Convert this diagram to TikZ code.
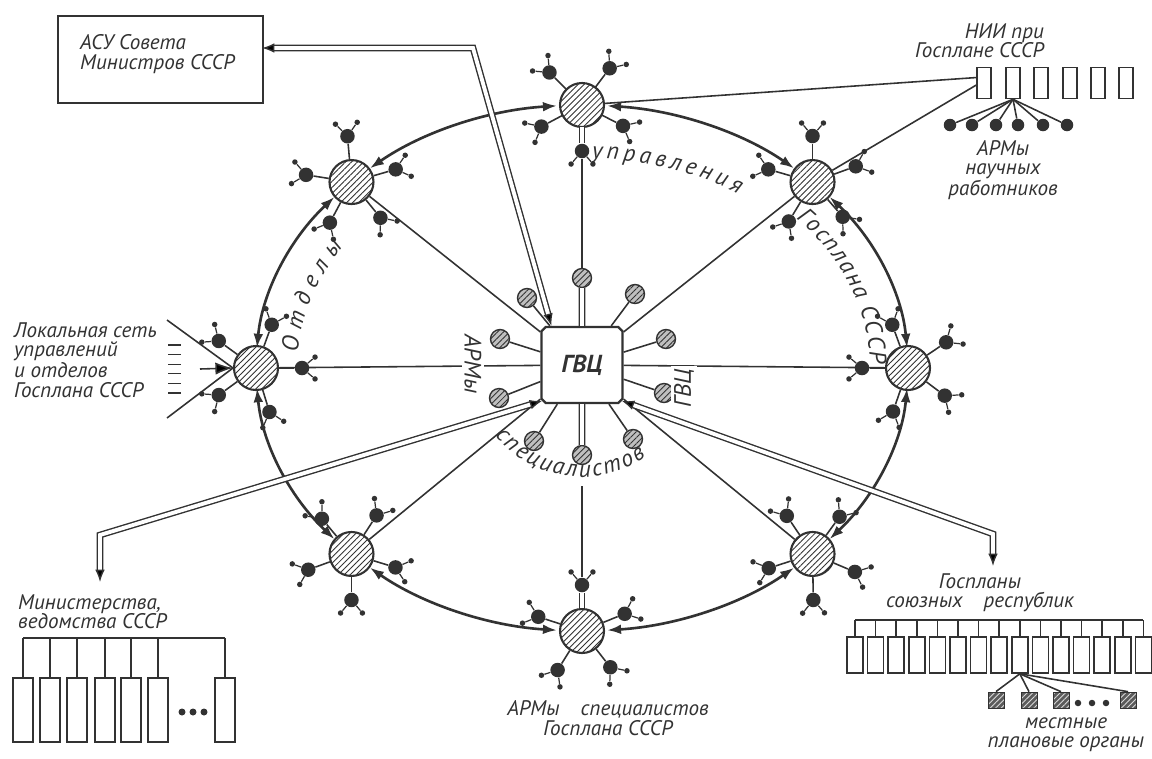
\documentclass[tikz,border=0pt]{standalone}
\usepackage{fontspec}
\setmainfont{PT Sans}
\usepackage{tikz}
\usetikzlibrary{arrows.meta, positioning, shapes.misc, patterns.meta, decorations.text, calc}
\definecolor{ink}{RGB}{50,50,50}
\newcommand\ringfont{\fontsize{13.5}{13.5}\selectfont\itshape}

\begin{document}
\begin{tikzpicture}[x=0.02cm, y=0.02cm,
  every node/.style={font=\fontsize{12}{11}\selectfont\itshape, text=ink},
  hatch/.style={pattern={Lines[angle=45, distance=2.4pt, line width=0.5pt]}, pattern color=ink},
  hub/.style={circle, draw=ink, line width=1.2pt, minimum size=0.88cm, inner sep=0, preaction={fill=white}, hatch},
  arm/.style={circle, fill=ink, minimum size=0.29cm, inner sep=0},
  tipdot/.style={circle, fill=ink, minimum size=0.11cm, inner sep=0},
  gsat/.style={circle, draw=ink, line width=0.8pt, minimum size=0.38cm, inner sep=0, preaction={fill=black!25}, hatch},
  gvcbox/.style={chamfered rectangle, chamfered rectangle xsep=1.2pt, chamfered rectangle ysep=1.2pt, draw=ink, line width=1.3pt, minimum width=1.62cm, minimum height=1.52cm, fill=white, font=\fontsize{14}{14}\selectfont\bfseries\itshape},
  locsq/.style={rectangle, draw=ink, minimum size=0.32cm, inner sep=0, preaction={fill=ink!80}, pattern={Lines[angle=45, distance=2.2pt, line width=0.5pt]}, pattern color=black!15},
  ring/.style={draw=ink, line width=1.5pt, {Latex[length=8pt,width=5.5pt]}-{Latex[length=8pt,width=5.5pt]}},
  spoke/.style={draw=ink, line width=0.9pt},
  whisk/.style={draw=ink, line width=0.7pt},
  dbl/.style={draw=ink, line width=0.8pt, double=white, double distance=2.2pt},
  dtips/.style={{Latex[length=7pt,width=5.5pt]}-{Latex[length=7pt,width=5.5pt]}},
  box/.style={rectangle, draw=ink, line width=0.9pt, inner sep=0},
]
  \useasboundingbox (0,0) rectangle (1152,-758);
  \coordinate (c0) at (582,-368);

  \foreach \h/\a in {hn/90, hne/45, he/0, hse/-45, hs/-90, hsw/-135, hw/180, hnw/135}
    \node[hub] (\h) at ($(c0)+(\a:326 and 263)$) {};

  \node[gvcbox] (gvc) at (582,-365) {ГВЦ};
  \foreach \n/\x/\y in {gn/582/278, gnw/527/298, gne/635/294, gwu/500/339, geu/666/339, gwl/499/398, gel/664/393, gsw/534/441, gs/582/455, gse/633/439}
    \node[gsat] (\n) at (\x,-\y) {};
  \foreach \n in {gnw, gne, gwu, geu, gwl, gel, gsw, gse}
    \draw[spoke] (\n) -- (gvc);
  \draw[dbl] (gn) -- (gvc);
  \draw[dbl] (gs) -- (gvc);

  \foreach \a in {0,45,...,315}
    \draw[ring] ($(c0)+({\a+4.4}:326 and 263)$) arc[start angle={\a+4.4}, end angle={\a+40.6}, x radius=326, y radius=263];

  \foreach \h in {hnw, hne, he, hse, hsw, hw}
    \draw[spoke] (gvc) -- (\h);

  \foreach \h/\list in {
    hn/{-90/dbl,135/spoke,53/spoke,208/spoke,-27/spoke},
    hne/{164/spoke,90/spoke,20/spoke,239/spoke,311/spoke},
    he/{110/spoke,34/spoke,180/spoke,-37/spoke,251/spoke},
    hse/{124/spoke,54/spoke,-23/spoke,-89/spoke,198/spoke},
    hs/{90/dbl,162/spoke,22/spoke,238/spoke,308/spoke},
    hsw/{130/spoke,57/spoke,-17/spoke,-90/spoke,200/spoke},
    hw/{70/spoke,144/spoke,0/spoke,216/spoke,287/spoke},
    hnw/{95/spoke,171/spoke,16/spoke,242/spoke,309/spoke}}
    \foreach \s/\lk [count=\i] in \list {
      \pgfmathsetmacro\sa{\s+40}
      \pgfmathsetmacro\sb{\s-40}
      \node[arm] (\h\i) at ($(\h)+(\s:46)$) {};
      \draw[\lk] (\h) -- (\h\i);
      \node[tipdot] (\h\i a) at ($(\h\i)+(\sa:17)$) {};
      \node[tipdot] (\h\i b) at ($(\h\i)+(\sb:17)$) {};
      \draw[whisk] (\h\i a) -- (\h\i) -- (\h\i b);
    }

  \draw[spoke] (gn) -- (hn1);
  \coordinate (gsb) at (582,-486);
  \draw[spoke] (gsb) -- (hs1);

  \path[decorate, decoration={text along path, text={|\ringfont|управления}, text color=ink, text align=fit to path}]
    ($(c0)+(88:280 and 210)$) arc[start angle=88, end angle=56, x radius=280, y radius=210];
  \path[decorate, decoration={text along path, text={|\ringfont|Госплана СССР}, text color=ink, text align=fit to path}]
    ($(c0)+(42:288 and 224)$) arc[start angle=42, end angle=1, x radius=288, y radius=224];
  \path[decorate, decoration={text along path, text={|\ringfont|Отделы}, text color=ink, text align=fit to path}]
    ($(c0)+(176:285 and 222)$) arc[start angle=176, end angle=147, x radius=285, y radius=222];
  \path[decorate, decoration={text along path, text={|\ringfont|специалистов}, text color=ink, text align=fit to path}]
    ($(gvc)+(219:112)$) arc[start angle=219, end angle=305, radius=112];
  \node[rotate=-90, fill=white, inner sep=1.5pt] (armsl) at (473,-364) {\ringfont АРМы};
  \node[rotate=90, fill=white, inner sep=1.5pt] (gvcr) at (684,-388) {\ringfont ГВЦ};

  \node[box, anchor=north west, minimum width=4.1cm, minimum height=1.74cm] (asu) at (57,-15) {};
  \node[anchor=west, align=left] (asutxt) at (74,-54) {АСУ Совета\\Министров СССР};
  \coordinate (asuin) at (262,-48);
  \coordinate (asubend) at (473,-48);
  \draw[dbl, dtips] (asuin) -- (asubend) -- (gvc.128);

  \foreach \i/\x in {1/984, 2/1013, 3/1041, 4/1070, 5/1098, 6/1126}
    \node[box, minimum width=0.28cm, minimum height=0.62cm] (nii\i) at (\x,-83) {};
  \foreach \i/\x in {1/950, 2/972, 3/996, 4/1018, 5/1043, 6/1067} {
    \node[arm, minimum size=0.25cm] (nd\i) at (\x,-125) {};
    \draw[spoke] (nii2.south) -- (nd\i);
  }
  \draw[spoke] (hn) -- (nii1.145);
  \draw[spoke] (hne) -- (nii1.195);
  \node[anchor=east, align=right] (niitxt) at (1050,-41) {НИИ при\\Госплане СССР};
  \node[align=center] (armsci) at (1003,-170) {АРМы\\научных\\работников};

  \node[anchor=west, align=left] (lantxt) at (8,-360) {Локальная сеть\\управлений\\и отделов\\Госплана СССР};
  \foreach \i in {0,...,5}
    \draw[whisk] (168,-345-9.6*\i) -- (181,-345-9.6*\i);
  \coordinate (lanA) at (167,-320);
  \coordinate (lanB) at (167,-418);
  \coordinate (lanC) at (200,-369);
  \draw[spoke] (lanA) -- (hw.west);
  \draw[spoke] (lanB) -- (hw.west);
  \draw[spoke, -{Latex[length=10pt,width=7pt]}] (lanC) -- (hw.west);

  \coordinate (minbend) at (100,-535);
  \coordinate (minin) at (100,-582);
  \draw[dbl, dtips] (minin) -- (minbend) -- (gvc.222);
  \node[anchor=west, align=left] (mintxt) at (12,-612) {Министерства,\\ведомства СССР};
  \foreach \i/\x in {1/23, 2/50, 3/77, 4/105, 5/131, 6/158, 7/225}
    \node[box, minimum width=0.4cm, minimum height=1.28cm] (min\i) at (\x,-710) {};
  \coordinate (minbarL) at (23,-638);
  \coordinate (minbarR) at (225,-638);
  \draw[spoke] (minbarL) -- (minbarR);
  \foreach \i in {1,...,7}
    \draw[spoke] (min\i.north) -- (min\i.north |- minbarL);
  \foreach \i/\x in {1/182, 2/193, 3/204}
    \node[tipdot, minimum size=0.14cm] (mindot\i) at (\x,-712) {};

  \coordinate (repbend) at (993,-534);
  \coordinate (repin) at (993,-566);
  \draw[dbl, dtips] (gvc.-42) -- (repbend) -- (repin);
  \node[align=center] (reptxt) at (980,-593) {Госпланы\\союзных\quad республик};
  \foreach \i in {1,...,15}
    \node[box, minimum width=0.32cm, minimum height=0.72cm] (rep\i) at (855+20.6*\i-20.6,-655) {};
  \coordinate (repbarL) at (855,-620);
  \coordinate (repbarR) at (1143,-620);
  \draw[spoke] (repbarL) -- (repbarR);
  \foreach \i in {1,...,15}
    \draw[spoke] (rep\i.north) -- (rep\i.north |- repbarL);
  \foreach \i/\x in {1/996, 2/1029, 3/1061, 4/1128} {
    \node[locsq] (loc\i) at (\x,-700) {};
    \draw[spoke] (rep9.south) -- (loc\i.north);
  }
  \foreach \i/\x in {1/1078, 2/1092, 3/1106}
    \node[tipdot, minimum size=0.13cm] (locdot\i) at (\x,-703) {};
  \node[align=center] (loctxt) at (1066,-735) {местные\\плановые органы};

  \node[align=center] (armspec) at (608,-718) {АРМы\quad специалистов\\Госплана СССР};
\end{tikzpicture}
\end{document}
